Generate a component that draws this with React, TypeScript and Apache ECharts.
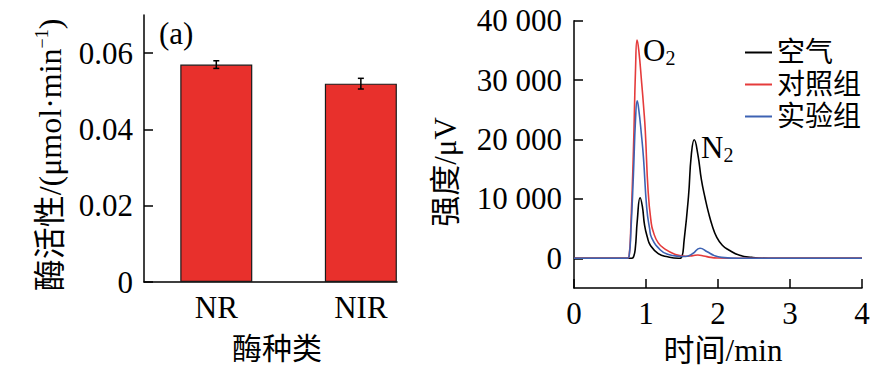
import React, { useEffect, useRef } from 'react';
import * as echarts from 'echarts';

// ---- Data ----
const enzymeCategories = ['NR', 'NIR'];
const enzymePositions = [1, 2];
const enzymeActivity = [0.057, 0.052];
const enzymeError = [0.001, 0.0014];

const activityTicks = [0, 0.02, 0.04, 0.06];
const intensityTicks = [0, 10000, 20000, 30000, 40000];

const seriesNames = ['空气', '对照组', '实验组'];

// [time (min), intensity (μV)]
const airCurve = [
  [0, 0], [0.8, 0], [0.825, 200], [0.85, 1500], [0.88, 6500], [0.918, 10200], [0.95, 8700],
  [0.98, 5600], [1.02, 3500], [1.06, 2200], [1.17, 800], [1.3, 250], [1.45, 0], [1.49, 100],
  [1.53, 3100], [1.59, 10400], [1.63, 17500], [1.67, 19950], [1.72, 17500], [1.77, 13200],
  [1.82, 10200], [1.87, 7600], [1.92, 5500], [1.98, 3600], [2.06, 2200], [2.15, 1400], [2.3, 500],
  [2.47, 150], [2.7, 0], [4, 0],
];
const controlCurve = [
  [0, 0], [0.74, 0], [0.765, 300], [0.79, 5600], [0.825, 18000], [0.855, 32000], [0.876, 36750],
  [0.9, 35000], [0.94, 29500], [0.97, 25000], [0.99, 21500], [1.03, 11200], [1.07, 6200], [1.1, 4500],
  [1.17, 2600], [1.27, 1500], [1.4, 700], [1.55, 350], [1.65, 450], [1.72, 550], [1.8, 400],
  [1.9, 150], [2.0, 50], [2.3, 0], [4, 0],
];
const testCurve = [
  [0, 0], [0.74, 0], [0.765, 300], [0.79, 4500], [0.825, 14000], [0.855, 23500], [0.878, 26500],
  [0.9, 25000], [0.935, 21000], [0.965, 16900], [1.01, 8500], [1.05, 5000], [1.08, 3400], [1.2, 1400],
  [1.3, 700], [1.45, 350], [1.55, 300], [1.65, 800], [1.75, 1700], [1.85, 1100], [1.95, 450],
  [2.05, 150], [2.3, 0], [4, 0],
];

const FONT = "'Liberation Serif', 'Noto Sans CJK SC', serif";
const FS = 31;

export default function App() {
  const ref = useRef<HTMLDivElement>(null);
  useEffect(() => {
    if (!ref.current) return;
    const chart = echarts.init(ref.current, null, { renderer: 'svg' });
    const axisLine = { show: true, onZero: false, lineStyle: { color: '#000', width: 1.5 } };
    const labelBase = { color: '#000', fontSize: FS, fontFamily: FONT };
    const option: any = {
      animation: false,
      backgroundColor: '#fff',
      grid: [
        { left: 144, top: 15, width: 253, height: 267 },
        { left: 574, top: 20.7, width: 288, height: 267.3 },
      ],
      xAxis: [
        {
          type: 'value', gridIndex: 0, min: 0.5, max: 2.25,
          axisLine, axisTick: { show: false }, splitLine: { show: false },
          axisLabel: {
            ...labelBase, margin: 10, customValues: enzymePositions,
            formatter: (v: number) => {
              const i = enzymePositions.indexOf(v);
              return i >= 0 ? enzymeCategories[i] : '';
            },
          },
        },
        {
          type: 'value', gridIndex: 1, min: 0, max: 4, interval: 1,
          axisLine, splitLine: { show: false },
          axisTick: { inside: true, length: 9, lineStyle: { color: '#000', width: 1.5 } },
          axisLabel: { ...labelBase, margin: 10 },
        },
      ],
      yAxis: [
        {
          type: 'value', gridIndex: 0, min: 0, max: 0.07,
          axisLine, splitLine: { show: false },
          axisTick: { inside: true, length: 9, customValues: activityTicks, lineStyle: { color: '#000', width: 1.5 } },
          axisLabel: {
            ...labelBase, margin: 11, customValues: activityTicks,
            formatter: (v: number) => (v === 0 ? '0' : v.toFixed(2)),
          },
        },
        {
          type: 'value', gridIndex: 1, min: -5000, max: 40000,
          axisLine, splitLine: { show: false },
          axisTick: { inside: true, length: 9, customValues: intensityTicks, lineStyle: { color: '#000', width: 1.5 } },
          axisLabel: {
            ...labelBase, margin: 12, customValues: intensityTicks,
            formatter: (v: number) => (v === 0 ? '0' : `${Math.round(v / 1000)} 000`),
          },
        },
      ],
      legend: {
        data: seriesNames,
        orient: 'vertical',
        left: 740, top: 32,
        icon: 'rect', itemWidth: 27, itemHeight: 2, itemGap: 1,
        textStyle: { color: '#000', fontSize: 28, fontFamily: FONT, lineHeight: 31 },
      },
      series: [
        {
          type: 'bar', xAxisIndex: 0, yAxisIndex: 0, barWidth: 72,
          data: enzymePositions.map((p, i) => [p, enzymeActivity[i]]),
          itemStyle: { color: '#e8302c', borderColor: '#1a1a1a', borderWidth: 1.2 },
        },
        {
          type: 'custom', xAxisIndex: 0, yAxisIndex: 0, z: 10,
          data: enzymePositions.map((p, i) => [p, enzymeActivity[i], enzymeError[i]]),
          renderItem: (params: any, api: any) => {
            const x = api.value(0), v = api.value(1), e = api.value(2);
            const t = api.coord([x, v + e]);
            const b = api.coord([x, v - e]);
            const hw = 3;
            const st = { stroke: '#000', lineWidth: 1.5 };
            return {
              type: 'group',
              children: [
                { type: 'line', shape: { x1: t[0], y1: t[1], x2: b[0], y2: b[1] }, style: st },
                { type: 'line', shape: { x1: t[0] - hw, y1: t[1], x2: t[0] + hw, y2: t[1] }, style: st },
                { type: 'line', shape: { x1: b[0] - hw, y1: b[1], x2: b[0] + hw, y2: b[1] }, style: st },
              ],
            };
          },
        },
        {
          name: seriesNames[0], type: 'line', xAxisIndex: 1, yAxisIndex: 1, data: airCurve,
          showSymbol: false, smooth: 0.5, color: '#000',
          lineStyle: { color: '#000', width: 1.6 },
        },
        {
          name: seriesNames[1], type: 'line', xAxisIndex: 1, yAxisIndex: 1, data: controlCurve,
          showSymbol: false, smooth: 0.5, color: '#e53b3b',
          lineStyle: { color: '#e53b3b', width: 1.6 },
        },
        {
          name: seriesNames[2], type: 'line', xAxisIndex: 1, yAxisIndex: 1, data: testCurve,
          showSymbol: false, smooth: 0.5, color: '#3d62b3',
          lineStyle: { color: '#3d62b3', width: 1.6 },
        },
      ],
      graphic: [
        {
          type: 'text', x: 50, y: 155, rotation: Math.PI / 2,
          style: {
            text: '{a|酶活性/(μmol·min}{s|−1}{a|)}',
            textAlign: 'center', textVerticalAlign: 'middle', fill: '#000',
            rich: {
              a: { fontSize: 32, fontFamily: FONT, lineHeight: 34 },
              s: { fontSize: 18, fontFamily: FONT, lineHeight: 18, verticalAlign: 'top' },
            },
          },
        },
        {
          type: 'text', x: 445, y: 172, rotation: Math.PI / 2,
          style: { text: '强度/μV', textAlign: 'center', textVerticalAlign: 'middle', fill: '#000', fontSize: FS, fontFamily: FONT },
        },
        {
          type: 'text', x: 159, y: 33,
          style: { text: '(a)', textAlign: 'left', textVerticalAlign: 'middle', fill: '#000', fontSize: FS, fontFamily: FONT },
        },
        {
          type: 'text', x: 277, y: 348,
          style: { text: '酶种类', textAlign: 'center', textVerticalAlign: 'middle', fill: '#000', fontSize: 30, fontFamily: FONT },
        },
        {
          type: 'text', x: 723, y: 350,
          style: { text: '时间/min', textAlign: 'center', textVerticalAlign: 'middle', fill: '#000', fontSize: FS, fontFamily: FONT },
        },
        {
          type: 'text', x: 643, y: 50,
          style: {
            text: '{a|O}{b|2}', textAlign: 'left', textVerticalAlign: 'middle', fill: '#000',
            rich: {
              a: { fontSize: FS, fontFamily: FONT, lineHeight: 36 },
              b: { fontSize: 20, fontFamily: FONT, lineHeight: 20, verticalAlign: 'bottom' },
            },
          },
        },
        {
          type: 'text', x: 701, y: 147,
          style: {
            text: '{a|N}{b|2}', textAlign: 'left', textVerticalAlign: 'middle', fill: '#000',
            rich: {
              a: { fontSize: FS, fontFamily: FONT, lineHeight: 36 },
              b: { fontSize: 20, fontFamily: FONT, lineHeight: 20, verticalAlign: 'bottom' },
            },
          },
        },
      ],
    };
    chart.setOption(option);
    return () => chart.dispose();
  }, []);
  return <div ref={ref} style={{ width: 886, height: 377, margin: -8 }} />;
}
